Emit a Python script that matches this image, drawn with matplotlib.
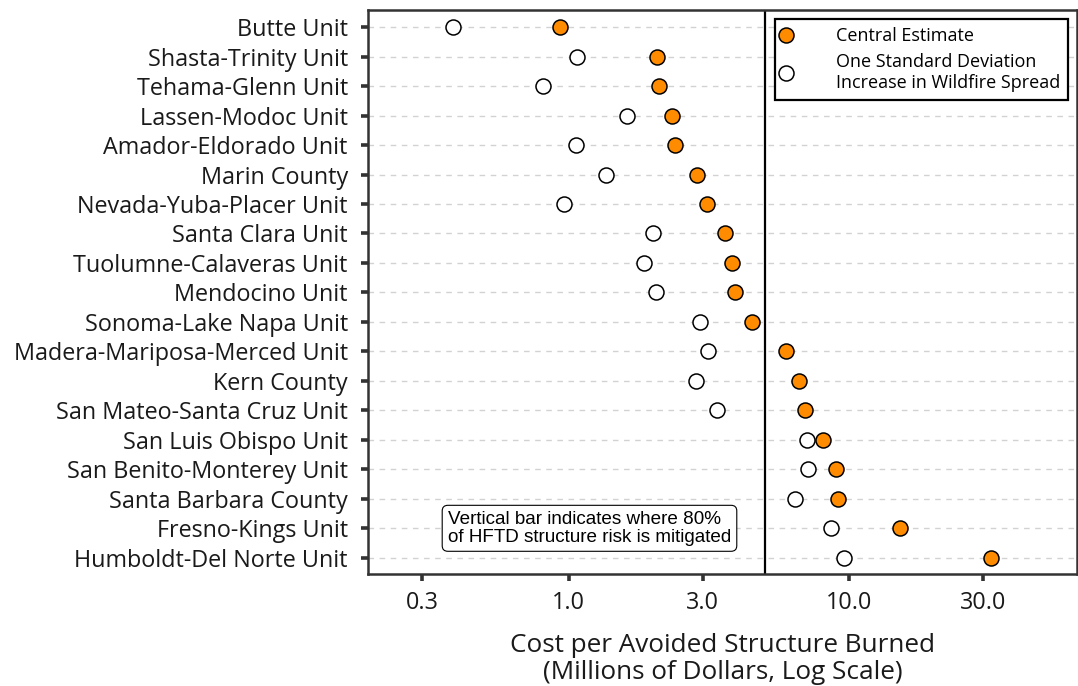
import matplotlib
matplotlib.use("Agg")
import matplotlib.pyplot as plt
from matplotlib.ticker import FixedLocator, FixedFormatter, NullLocator

plt.rcParams['font.family'] = ['Open Sans', 'DejaVu Sans']

units = [
    "Butte Unit", "Shasta-Trinity Unit", "Tehama-Glenn Unit", "Lassen-Modoc Unit",
    "Amador-Eldorado Unit", "Marin County", "Nevada-Yuba-Placer Unit",
    "Santa Clara Unit", "Tuolumne-Calaveras Unit", "Mendocino Unit",
    "Sonoma-Lake Napa Unit", "Madera-Mariposa-Merced Unit", "Kern County",
    "San Mateo-Santa Cruz Unit", "San Luis Obispo Unit", "San Benito-Monterey Unit",
    "Santa Barbara County", "Fresno-Kings Unit", "Humboldt-Del Norte Unit",
]
central = [0.93, 2.07, 2.10, 2.34, 2.40, 2.86, 3.12, 3.62, 3.82, 3.92,
           4.51, 5.97, 6.63, 6.98, 8.10, 8.99, 9.16, 15.2, 32.1]
one_sd = [0.388, 1.07, 0.81, 1.61, 1.06, 1.36, 0.96, 1.99, 1.85, 2.05,
          2.94, 3.15, 2.85, 3.37, 7.08, 7.14, 6.40, 8.63, 9.62]
threshold = 5.0
xticks = [0.3, 1.0, 3.0, 10.0, 30.0]
xtick_labels = ["0.3", "1.0", "3.0", "10.0", "30.0"]

fig = plt.figure(figsize=(10.78, 6.86), dpi=100)
ax = fig.add_axes([368 / 1078, 112 / 686, 709 / 1078, 564 / 686])

ypos = list(range(len(units)))

for y in ypos:
    ax.axhline(y, color="#d2d2d2", lw=1.0, ls=(0, (4, 4)), zorder=0)

ax.axvline(threshold, color="black", lw=1.6, zorder=1)

ax.plot(central, ypos, ls="none", marker="o", ms=10.8, mfc="#FF8C00",
        mec="black", mew=1.1, zorder=3, label="Central Estimate")
ax.plot(one_sd, ypos, ls="none", marker="o", ms=10.8, mfc="white",
        mec="black", mew=1.1, zorder=3,
        label="One Standard Deviation\nIncrease in Wildfire Spread")

ax.set_xscale("log")
ax.set_xlim(0.1923, 65.0)
ax.set_ylim(len(units) - 1 + 0.55, -0.58)

ax.xaxis.set_major_locator(FixedLocator(xticks))
ax.xaxis.set_major_formatter(FixedFormatter(xtick_labels))
ax.xaxis.set_minor_locator(NullLocator())
ax.set_yticks(ypos)
ax.set_yticklabels(units)

ax.tick_params(axis="both", length=5, width=2.6, color="#333333",
               labelsize=16.8, labelcolor="#1a1a1a")
ax.tick_params(axis="y", pad=9.5)
ax.tick_params(axis="x", pad=7)

for sp in ax.spines.values():
    sp.set_color("#333333")
    sp.set_linewidth(1.8)

ax.set_xlabel("Cost per Avoided Structure Burned\n(Millions of Dollars, Log Scale)",
              fontsize=18.8, color="#1a1a1a", labelpad=13, linespacing=1.12)

leg = ax.legend(loc="upper right", fontsize=13, frameon=True, fancybox=False,
                framealpha=1, edgecolor="black", handlelength=0.35,
                handletextpad=2.55, borderpad=0.45, labelspacing=0.45,
                borderaxespad=0.5)
leg.get_frame().set_linewidth(1.6)

ax.text(0.3124, 17, "Vertical bar indicates where 80%\nof HFTD structure risk is mitigated",
        transform=ax.get_yaxis_transform(), ha="center", va="center",
        multialignment="left",
        family=["Liberation Sans", "DejaVu Sans"], fontsize=13.6, color="black",
        linespacing=1.05, zorder=4,
        bbox=dict(boxstyle="round,pad=0.3,rounding_size=0.3", fc="white",
                  ec="black", lw=0.8))

fig.savefig("out.png", dpi=100)
